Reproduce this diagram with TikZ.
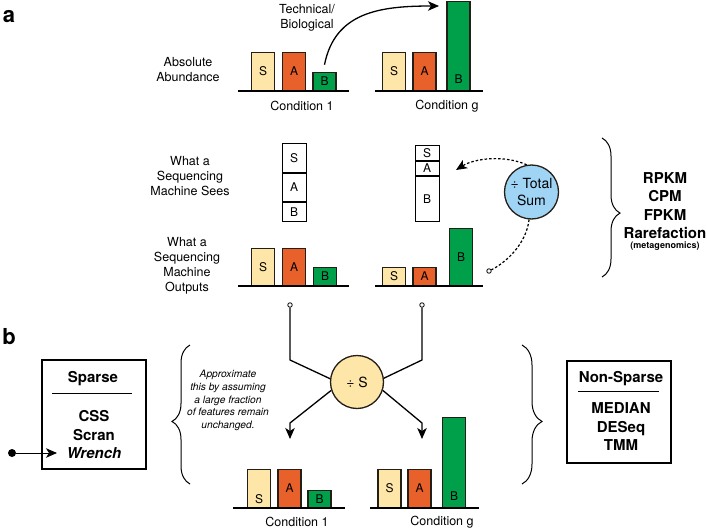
\documentclass[tikz,border=0pt]{standalone}
\usepackage{fontspec}
\setmainfont{TeX Gyre Heros}
\usetikzlibrary{arrows.meta,positioning,decorations.pathreplacing}
\definecolor{colS}{HTML}{FDE6A8}
\definecolor{colA}{HTML}{E8602A}
\definecolor{colB}{HTML}{00A04B}
\definecolor{barline}{HTML}{231F17}
\definecolor{colTot}{HTML}{A0D4F5}
\tikzset{
    >={Stealth[length=11pt,width=9.5pt,inset=3pt]},
    bar/.style={
           draw=barline, line width=1.3pt,
           minimum width=23pt,
           inner sep=0pt,
           anchor=south,
           font=\fontsize{12}{14}\selectfont},
    barS/.style={bar, fill=colS},
    barA/.style={bar, fill=colA},
    barB/.style={bar, fill=colB},
    barlbl/.style={inner sep=0pt, font=\fontsize{12}{14}\selectfont},
    cell/.style={
           draw, line width=1pt, fill=white,
           minimum width=24pt,
           inner sep=0pt,
           anchor=north,
           font=\fontsize{12}{14}\selectfont},
    axis/.style={line width=1.3pt},
    lbl/.style={align=center, font=\fontsize{12.5}{15}\selectfont},
    pil/.style={->, line width=1.3pt},
    prikker/.style={line width=1.2pt, dash pattern=on 2.5pt off 2pt},
    opendot/.style={circle, draw, line width=0.8pt, fill=white, inner sep=0pt, minimum size=4.5pt},
    div/.style={circle, draw=barline, line width=1.3pt, inner sep=0pt, align=center,
           font=\fontsize{14}{17}\selectfont},
    klammer/.style={decorate, decoration={brace, amplitude=18pt}, line width=1pt},
    methodbox/.style={draw, line width=1.3pt, minimum width=104pt, inner sep=0pt},
    method/.style={align=center, font=\bfseries\fontsize{15}{18.5}\selectfont},
    panel/.style={font=\bfseries\fontsize{22}{24}\selectfont}
}
\begin{document}
\begin{tikzpicture}[x=1pt,y=-1pt]
          \useasboundingbox (0,0) rectangle (707,530);
          % panel a, absolute abundance
          \node[panel] (pa) at (9,17) {a};
          \node[lbl] (absab) at (188,70) {Absolute\\Abundance};
          \node[barS, minimum height=38pt] (a1S) at (263,91) {S};
          \node[barA, minimum height=38pt] (a1A) at (294,91) {A};
          \node[barB, minimum height=18pt] (a1B) at (324.5,91) {B};
          \node[barS, minimum height=38pt] (agS) at (394,91) {S};
          \node[barA, minimum height=38pt] (agA) at (424.5,91) {A};
          \node[barB, minimum height=89pt] (agB) at (458.5,91) {};
          \node[barlbl, above=7.5pt of agB.south] (agBt) {B};
          \draw[axis] (238,91) -- (349,91);
          \draw[axis] (375,91) -- (483,91);
          \node[lbl] (c1top) at (302,106) {Condition 1};
          \node[lbl] (cgtop) at (447,106) {Condition g};
          \node[lbl] (tech) at (307,17.5) {Technical/\\Biological};
          \coordinate[above=7pt of a1B.north] (techfra);
          \coordinate (techtil) at (439,6);
          \draw[pil] (techfra) .. controls (335,12) and (380,6) .. (techtil);
          % what the machine sees
          \node[lbl] (sees) at (190,176) {What a\\Sequencing\\Machine Sees};
          \node[cell, minimum height=29pt] (s1S) at (294,143) {S};
          \node[cell, minimum height=28pt] (s1A) at (s1S.south) {A};
          \node[cell, minimum height=19pt] (s1B) at (s1A.south) {B};
          \node[cell, minimum height=15pt] (sgS) at (427,145) {S};
          \node[cell, minimum height=14pt] (sgA) at (sgS.south) {A};
          \node[cell, minimum height=45pt] (sgB) at (sgA.south) {B};
          % what the machine outputs
          \node[lbl] (outp) at (187,265.5) {What a\\Sequencing\\Machine\\Outputs};
          \node[barS, minimum height=37pt] (o1S) at (263,286) {S};
          \node[barA, minimum height=37pt] (o1A) at (294,286) {A};
          \node[barB, minimum height=18pt] (o1B) at (325,286) {B};
          \node[barS, minimum height=18pt] (ogS) at (394,286) {S};
          \node[barA, minimum height=18pt] (ogA) at (424.5,286) {A};
          \node[barB, minimum height=57pt] (ogB) at (461,286) {B};
          \draw[axis] (238,286) -- (349,286);
          \draw[axis] (375,286) -- (483,286);
          % total sum
          \node[div, fill=colTot, minimum size=54pt] (total) at (531.5,192) {÷ Total\\Sum};
          \coordinate (seetil) at (456,170);
          \draw[prikker, ->] (total.100) .. controls (505,155) and (475,158) .. (seetil);
          \node[opendot] (totdot) at (489,271) {};
          \draw[prikker] (total.-95) .. controls (526,245) and (505,263) .. (totdot);
          \draw[klammer, decoration={aspect=0.54}] (602,138) -- (602,277);
          \node[align=center, font=\bfseries\fontsize{15}{18.3}\selectfont] (sumlist) at (665,205.5) {RPKM\\CPM\\FPKM\\Rarefaction};
          \node[font=\bfseries\fontsize{9}{10}\selectfont] (metag) at (665,246) {(metagenomics)};
          % panel b
          \node[panel] (pb) at (9,337) {b};
          \node[opendot] (o1dot) at (290,305) {};
          \node[opendot] (ogdot) at (422,305) {};
          \node[div, fill=colS, minimum size=53pt] (divs) at (357,382) {÷ S};
          \coordinate (o1k) at (290,360);
          \coordinate (ogk) at (422,360);
          \draw[line width=1.3pt] (o1dot) -- (o1k) -- (divs.173);
          \draw[line width=1.3pt] (ogdot) -- (ogk) -- (divs.8);
          \coordinate (u1k) at (290,423);
          \coordinate (u1til) at (290,439);
          \coordinate (ugk) at (422,423);
          \coordinate (ugtil) at (422,439);
          \draw[pil] (divs.198) -- (u1k) -- (u1til);
          \draw[pil] (divs.-18) -- (ugk) -- (ugtil);
          \node[barS, minimum height=38pt] (b1S) at (259,508) {};
          \node[barlbl, above=4pt of b1S.south] (b1St) {S};
          \node[barA, minimum height=38pt] (b1A) at (289.5,508) {A};
          \node[barB, minimum height=17pt] (b1B) at (319.5,508) {B};
          \node[barS, minimum height=38pt] (bgS) at (389.5,508) {S};
          \node[barA, minimum height=38pt] (bgA) at (419.5,508) {A};
          \node[barB, minimum height=90pt] (bgB) at (454,508) {};
          \node[barlbl, above=7.5pt of bgB.south] (bgBt) {B};
          \draw[axis] (233,508) -- (345,508);
          \draw[axis] (370,508) -- (479,508);
          \node[lbl] (c1bot) at (297,522) {Condition 1};
          \node[lbl] (cgbot) at (442,522) {Condition g};
          % sparse and non-sparse
          \draw[klammer, decoration={aspect=0.45}] (190,484) -- (190,345);
          \node[align=center, font=\itshape\fontsize{10.2}{12.8}\selectfont] (approx) at (228,400.5) {Approximate\\this by assuming\\a large fraction\\of features remain\\unchanged.};
          \draw[klammer, decoration={aspect=0.55, amplitude=20pt}] (522,345) -- (522,484);
          \node[methodbox, minimum height=109pt] (sparse) at (94,414.5) {};
          \node[method] (sparsehd) at (93,379) {Sparse};
          \draw[line width=1pt] (52,393) -- (132,393);
          \node[method] (sparsem) at (94,435) {CSS\\Scran\\\textit{Wrench}};
          \node[circle, fill, inner sep=0pt, minimum size=8pt] (wdot) at (12,453) {};
          \coordinate (wtil) at (57,453);
          \draw[->, line width=1pt] (wdot) -- (wtil);
          \node[methodbox, minimum height=102pt] (nonsparse) at (619,412) {};
          \node[method] (nonsparsehd) at (621,379) {Non-Sparse};
          \draw[line width=1pt] (578,391) -- (659,391);
          \node[method] (nonsparsem) at (621,427) {MEDIAN\\DESeq\\TMM};
\end{tikzpicture}
\end{document}
